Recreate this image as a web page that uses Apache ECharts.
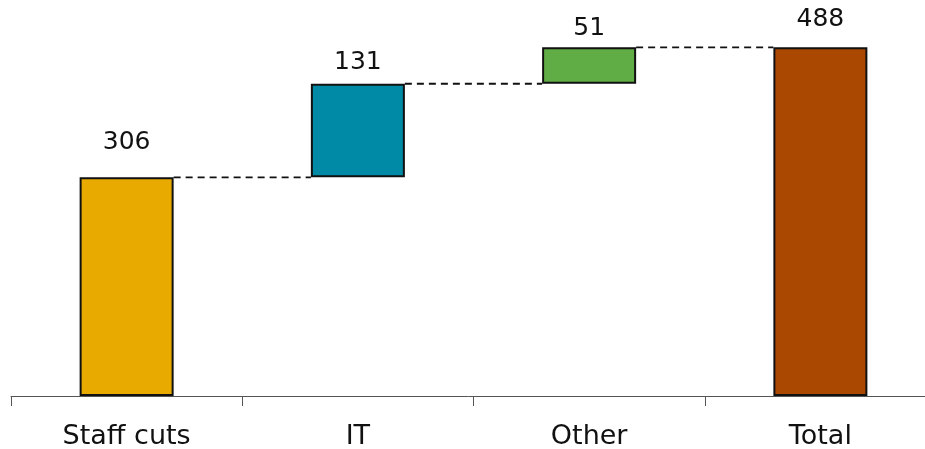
<!DOCTYPE html>
<html>
<head>
<meta charset="utf-8">
<script src="https://cdn.jsdelivr.net/npm/echarts@6/dist/echarts.min.js"></script>
<style>
html,body{margin:0;padding:0;background:#fff;}
#chart{width:925px;height:449px;}
</style>
</head>
<body>
<div id="chart"></div>
<script>
const categories = ['Staff cuts', 'IT', 'Other', 'Total'];
const values = [306, 131, 51, 488];
const bases = [0, 306, 437, 0];
const connectorLevels = [306, 437, 488];
const colors = ['#E9AA00', '#008AA6', '#61AD45', '#AA4700'];

const BAR_W = 94;
const labelDist = [22, 9, 6, 15];

const chart = echarts.init(document.getElementById('chart'), null, {renderer: 'canvas'});
chart.setOption({
  animation: false,
  backgroundColor: '#fff',
  grid: {left: 11, width: 925, top: 3, bottom: 53, containLabel: false, outerBoundsMode: 'none'},
  xAxis: {
    type: 'category',
    data: categories,
    axisLine: {lineStyle: {color: '#555', width: 1}},
    axisTick: {show: true, length: 10, lineStyle: {color: '#555'}},
    axisLabel: {color: '#111', fontFamily: 'DejaVu Sans', fontSize: 27, margin: 27}
  },
  yAxis: {
    type: 'value', min: 0, max: 550, show: false,
    splitLine: {show: false}
  },
  series: [
    {
      type: 'bar', stack: 'w', barWidth: BAR_W,
      data: bases,
      itemStyle: {color: 'transparent'},
      silent: true
    },
    {
      type: 'bar', stack: 'w', barWidth: BAR_W,
      data: values.map((v, i) => ({
        value: v,
        itemStyle: {color: colors[i], borderColor: '#111', borderWidth: 2},
        label: {distance: labelDist[i]}
      })),
      label: {
        show: true, position: 'top', color: '#111',
        fontFamily: 'DejaVu Sans', fontSize: 25
      }
    },
    {
      type: 'custom',
      data: connectorLevels.map((v, i) => [i, v]),
      renderItem: function (params, api) {
        const p = api.coord([api.value(0), api.value(1)]);
        const w = api.size([1, 0])[0];
        return {
          type: 'line',
          shape: {x1: p[0] + BAR_W / 2, y1: p[1], x2: p[0] + w - BAR_W / 2, y2: p[1]},
          style: {stroke: '#111', lineWidth: 1.8, lineDash: [7, 5]}
        };
      },
      z: 1
    }
  ]
});
</script>
</body>
</html>
